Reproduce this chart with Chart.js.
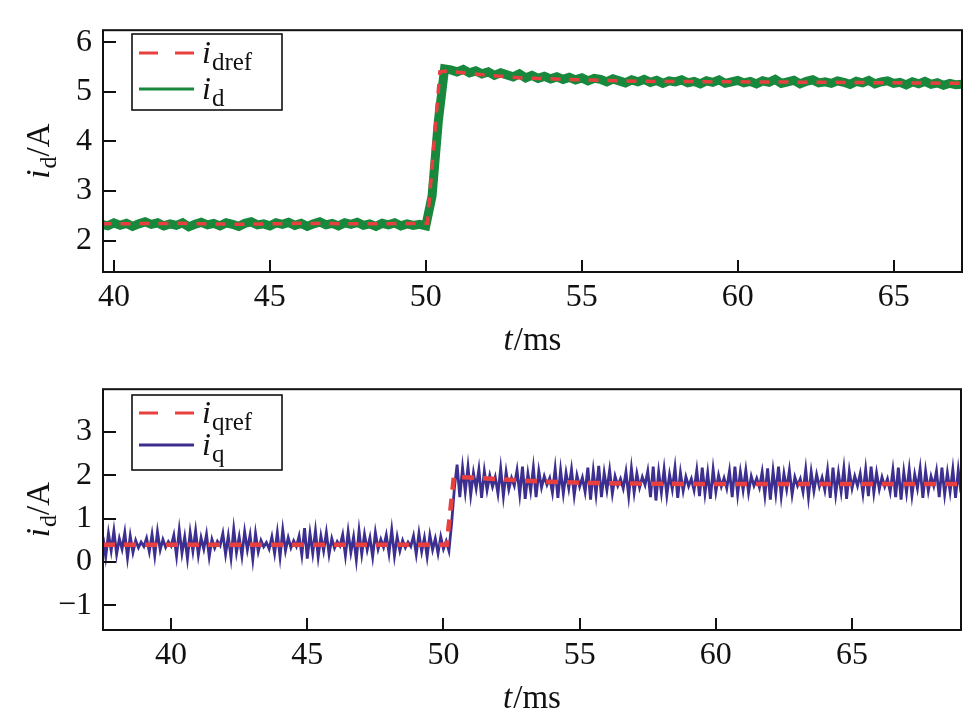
<!DOCTYPE html>
<html>
<head>
<meta charset="utf-8">
<script src="https://cdn.jsdelivr.net/npm/chart.js@4.4.1/dist/chart.umd.min.js"></script>
<style>
  html, body { margin: 0; padding: 0; background: #fff; }
  .panel { position: relative; width: 964px; height: 359px; }
</style>
</head>
<body>
<div class="panel"><canvas id="topChart" width="964" height="359"></canvas></div>
<div class="panel"><canvas id="bottomChart" width="964" height="359"></canvas></div>
<script>
// ---- values ----
const xTicks = [40, 45, 50, 55, 60, 65];
const topYTicks = [2, 3, 4, 5, 6];
const bottomYTicks = [-1, 0, 1, 2, 3];

// top panel: d-axis reference (dashed) and measured current
const idrefTime = [39.6, 42.0, 44.0, 46.0, 48.0, 50.05, 50.45, 50.7, 51.5, 53.0, 55.0, 57.0, 60.0, 63.0, 67.2];
const idrefValues = [2.34, 2.35, 2.33, 2.35, 2.34, 2.35, 5.40, 5.42, 5.36, 5.28, 5.24, 5.21, 5.20, 5.19, 5.17];

const idStart = 39.6, idStep = 0.2;   // sample clock of the measured trace
const idValues = [
  2.33, 2.30, 2.36, 2.31, 2.35, 2.29, 2.34, 2.38, 2.33, 2.36,
  2.30, 2.34, 2.31, 2.36, 2.28, 2.33, 2.37, 2.32, 2.35, 2.30,
  2.36, 2.33, 2.29, 2.35, 2.38, 2.32, 2.34, 2.30, 2.36, 2.33,
  2.37, 2.31, 2.35, 2.29, 2.34, 2.38, 2.32, 2.35, 2.30, 2.36,
  2.33, 2.37, 2.31, 2.34, 2.29, 2.35, 2.32, 2.36, 2.30, 2.34,
  2.31, 2.33,
  2.30, 2.90, 4.40, 5.46,
  5.44, 5.40, 5.45, 5.38, 5.42, 5.36, 5.40, 5.33, 5.38, 5.34,
  5.30, 5.36, 5.28, 5.33, 5.27, 5.31, 5.26, 5.30, 5.25, 5.29,
  5.24, 5.28, 5.22, 5.27, 5.25, 5.20, 5.26, 5.22, 5.18, 5.24,
  5.20, 5.25, 5.19, 5.23, 5.17, 5.22, 5.20, 5.24, 5.18, 5.21,
  5.16, 5.22, 5.19, 5.24, 5.17, 5.20, 5.23, 5.18, 5.21, 5.16,
  5.22, 5.19, 5.25, 5.17, 5.20, 5.23, 5.16, 5.21, 5.24, 5.18,
  5.20, 5.17, 5.22, 5.19, 5.15, 5.21, 5.18, 5.23, 5.16, 5.20,
  5.22, 5.17, 5.19, 5.14, 5.20, 5.16, 5.21, 5.15, 5.18, 5.13,
  5.17, 5.14, 5.15
];

// bottom panel: q-axis reference (dashed) and measured current
const iqrefTime = [37.5, 44.0, 50.12, 50.38, 51.0, 52.0, 53.5, 55.0, 57.0, 60.0, 64.0, 69.0];
const iqrefValues = [0.40, 0.40, 0.40, 1.96, 1.95, 1.91, 1.86, 1.83, 1.81, 1.80, 1.80, 1.80];

const iqStart = 37.5, iqStep = 0.1;
const iqValues = [
  // before the step, around 0.42
  0.58, 0.12, 0.66, 0.26, 0.72, 0.18, 0.54, 0.30, 0.68, 0.10, 0.60, 0.22, 0.50, 0.33, 0.46, 0.36, 0.55, 0.24, 0.64, 0.15, 0.70, 0.28,
  0.52, 0.34, 0.47, 0.37, 0.62, 0.14, 0.74, 0.20, 0.58, 0.08, 0.68, 0.25, 0.72, 0.16, 0.56, 0.30, 0.64, 0.12, 0.52, 0.32, 0.48, 0.38,
  0.66, 0.18, 0.60, 0.10, 0.76, 0.22, 0.58, 0.14, 0.70, 0.28, 0.62, 0.06, 0.66, 0.24, 0.50, 0.35, 0.45, 0.30, 0.58, 0.20, 0.68, 0.12,
  0.74, 0.26, 0.56, 0.33, 0.49, 0.36, 0.60, 0.16, 0.78, 0.08, 0.66, 0.20, 0.72, 0.12, 0.60, 0.26, 0.68, 0.18, 0.54, 0.32, 0.47, 0.37,
  0.63, 0.15, 0.70, 0.22, 0.58, 0.05, 0.72, 0.18, 0.64, 0.28, 0.56, 0.12, 0.68, 0.30, 0.52, 0.34, 0.62, 0.20, 0.74, 0.14, 0.58, 0.26,
  0.50, 0.33, 0.46, 0.36, 0.60, 0.18, 0.66, 0.24, 0.56, 0.12, 0.62, 0.28, 0.54, 0.20, 0.58, 0.30, 0.48, 0.26,
  // step
  0.90, 1.70, 2.25,
  // after the step, around 1.85
  1.50, 2.18, 1.62, 2.20, 1.55, 2.06, 1.70, 2.14, 1.48, 2.10, 1.66, 2.00, 1.74, 1.96, 1.58, 2.16, 1.52, 2.08, 1.68, 1.94, 1.76,
  2.12, 1.56, 2.20, 1.46, 2.04, 1.64, 2.18, 1.50, 2.10, 1.72, 1.98, 1.78, 1.94, 1.60, 2.16, 1.48, 2.12, 1.58, 2.06, 1.70, 2.14, 1.54,
  2.00, 1.74, 1.95, 1.62, 2.18, 1.44, 2.10, 1.56, 2.22, 1.50, 2.06, 1.66, 2.12, 1.58, 1.98, 1.76, 1.92, 1.70, 2.08, 1.52, 2.16, 1.60,
  2.04, 1.72, 1.96, 1.78, 2.10, 1.50, 2.20, 1.42, 2.08, 1.60, 2.14, 1.54, 2.02, 1.68, 2.18, 1.48, 2.06, 1.64, 1.97, 1.75, 1.92, 1.66,
  2.12, 1.52, 2.18, 1.58, 2.06, 1.46, 2.14, 1.62, 2.00, 1.74, 1.94, 1.70, 2.10, 1.50, 2.20, 1.56, 2.08, 1.66, 2.12, 1.60, 1.98, 1.76,
  1.93, 1.72, 2.08, 1.54, 2.16, 1.44, 2.10, 1.58, 2.20, 1.52, 2.04, 1.68, 2.12, 1.56, 1.96, 1.76, 1.92, 1.62, 2.14, 1.50, 2.08, 1.64,
  2.02, 1.74, 1.95, 1.66, 2.12, 1.48, 2.18, 1.56, 2.06, 1.62, 2.16, 1.46, 2.10, 1.70, 1.98, 1.76, 2.04, 1.58, 2.14, 1.52, 2.20, 1.60,
  2.06, 1.68, 1.96, 1.74, 1.92, 1.62, 2.12, 1.50, 2.18, 1.44, 2.08, 1.60, 2.14, 1.54, 2.02, 1.70, 2.16, 1.48, 2.10, 1.64, 1.98, 1.76,
  2.10, 1.50, 2.18, 1.56, 2.06, 1.62, 2.14, 1.48, 2.12, 1.60
];

// ---- styling ----
const SERIF = '"Liberation Serif", "Times New Roman", serif';
const RED = '#e8403f';
const GREEN = '#17883c';
const BLUE = '#3d2f8f';
const INK = '#111';

const pairs = (ts, vs) => vs.map((v, i) => ({ x: ts[i], y: v }));
const sampled = (t0, dt, vs) => vs.map((v, i) => ({ x: +(t0 + i * dt).toFixed(3), y: v }));

// text with italic symbol + subscript
function drawRich(ctx, parts, x, y, align) {
  let w = 0;
  parts.forEach(p => { ctx.font = p.font; w += ctx.measureText(p.text).width + (p.gap || 0); });
  let cx = align === 'center' ? x - w / 2 : x;
  ctx.textAlign = 'left';
  ctx.textBaseline = 'alphabetic';
  parts.forEach(p => {
    ctx.font = p.font;
    ctx.fillText(p.text, cx, y + (p.dy || 0));
    cx += ctx.measureText(p.text).width + (p.gap || 0);
  });
}

function makeFrame(cfg) {
  return {
    id: 'frame',
    afterDraw(chart) {
      const { ctx, chartArea: a, scales: { x, y } } = chart;
      ctx.save();
      // box + inward ticks
      ctx.strokeStyle = INK;
      ctx.lineWidth = 2;
      ctx.strokeRect(a.left, a.top, a.right - a.left, a.bottom - a.top);
      ctx.beginPath();
      x.ticks.forEach(t => {
        const px = Math.round(x.getPixelForValue(t.value));
        ctx.moveTo(px, a.bottom); ctx.lineTo(px, a.bottom - 12);
      });
      y.ticks.forEach(t => {
        const py = Math.round(y.getPixelForValue(t.value));
        ctx.moveTo(a.left, py); ctx.lineTo(a.left + 13, py);
      });
      ctx.stroke();

      ctx.fillStyle = INK;
      // x title  t/ms
      drawRich(ctx, [
        { text: 't', font: 'italic 33px ' + SERIF, gap: 1 },
        { text: '/ms', font: '33px ' + SERIF }
      ], (a.left + a.right) / 2, a.bottom + 78, 'center');

      // y title  i_d/A
      ctx.save();
      ctx.translate(49, (a.top + a.bottom) / 2);
      ctx.rotate(-Math.PI / 2);
      drawRich(ctx, [
        { text: 'i', font: 'italic 33px ' + SERIF, gap: 1 },
        { text: 'd', font: '24px ' + SERIF, dy: 7 },
        { text: '/A', font: '33px ' + SERIF }
      ], 0, 0, 'center');
      ctx.restore();

      // legend
      const L = cfg.legend;
      ctx.fillStyle = '#fff';
      ctx.fillRect(L.left, L.top, L.width, L.height);
      ctx.strokeStyle = INK;
      ctx.lineWidth = 1.6;
      ctx.strokeRect(L.left, L.top, L.width, L.height);
      cfg.names.forEach((n, i) => {
        const ry = L.top + L.rows[i];
        ctx.beginPath();
        ctx.strokeStyle = i === 0 ? RED : cfg.color;
        ctx.lineWidth = 3;
        ctx.setLineDash(i === 0 ? [19, 17] : []);
        ctx.moveTo(L.left + 7, ry); ctx.lineTo(L.left + 62, ry);
        ctx.stroke();
        ctx.setLineDash([]);
        ctx.fillStyle = INK;
        drawRich(ctx, [
          { text: n[0], font: 'italic 32px ' + SERIF, gap: 1 },
          { text: n[1], font: '25px ' + SERIF, dy: 7 }
        ], L.left + 70, ry + 10, 'left');
      });
      ctx.restore();
    }
  };
}

function makeChart(id, cfg) {
  const tickFont = { family: SERIF, size: 32 };
  return new Chart(document.getElementById(id), {
    type: 'line',
    data: {
      datasets: [
        { label: cfg.names[0].join(''), data: cfg.ref, borderColor: RED, borderWidth: cfg.refWidth,
          borderDash: cfg.refDash, pointRadius: 0, tension: 0, fill: false },
        { label: cfg.names[1].join(''), data: cfg.meas, borderColor: cfg.color, borderWidth: cfg.measWidth,
          pointRadius: 0, tension: 0, fill: false, borderJoinStyle: 'miter' }
      ]
    },
    options: {
      responsive: false,
      animation: false,
      devicePixelRatio: 1,
      events: [],
      layout: { padding: { top: cfg.padTop, right: cfg.padRight, left: 0, bottom: 0 } },
      plugins: { legend: { display: false }, tooltip: { enabled: false } },
      scales: {
        x: {
          type: 'linear', min: cfg.xMin, max: cfg.xMax,
          grid: { display: false, drawTicks: false }, border: { display: false },
          afterBuildTicks: s => { s.ticks = xTicks.map(v => ({ value: v })); },
          afterFit: s => { s.height = cfg.xAxisH; },
          ticks: { font: tickFont, color: INK, padding: 6, maxRotation: 0, autoSkip: false }
        },
        y: {
          type: 'linear', min: cfg.yMin, max: cfg.yMax,
          grid: { display: false, drawTicks: false }, border: { display: false },
          afterBuildTicks: s => { s.ticks = cfg.yTicks.map(v => ({ value: v })); },
          afterFit: s => { s.width = 103; },
          ticks: { font: tickFont, color: INK, padding: 11,
                   callback: v => String(v).replace('-', '\u2212') }
        }
      }
    },
    plugins: [makeFrame(cfg)]
  });
}

makeChart('topChart', {
  ref: pairs(idrefTime, idrefValues),
  meas: sampled(idStart, idStep, idValues),
  names: [['i', 'dref'], ['i', 'd']],
  color: GREEN, refWidth: 3.5, refDash: [10, 9], measWidth: 9,
  xMin: 39.65, xMax: 67.19, yMin: 1.37, yMax: 6.24, yTicks: topYTicks,
  padTop: 9, padRight: 2, xAxisH: 87,
  legend: { left: 132, top: 34, width: 150, height: 76, rows: [19, 55] }
});

makeChart('bottomChart', {
  ref: pairs(iqrefTime, iqrefValues),
  meas: sampled(iqStart, iqStep, iqValues),
  names: [['i', 'qref'], ['i', 'q']],
  color: BLUE, refWidth: 4.5, refDash: [12, 9], measWidth: 2.8,
  xMin: 37.5, xMax: 69.0, yMin: -1.57, yMax: 3.99, yTicks: bottomYTicks,
  padTop: 8, padRight: 3, xAxisH: 88,
  legend: { left: 132, top: 36, width: 150, height: 75, rows: [18, 50] }
});
</script>
</body>
</html>
